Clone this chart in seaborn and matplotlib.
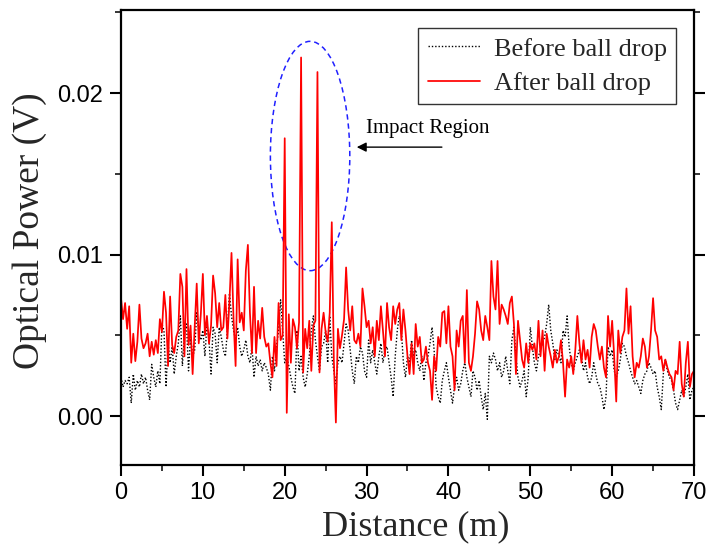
import numpy as np
import pandas as pd
import matplotlib
matplotlib.use("Agg")
import matplotlib.pyplot as plt
from matplotlib.patches import Ellipse
from matplotlib.ticker import MultipleLocator, FormatStrFormatter
import seaborn as sns

# sample positions along the fibre (m)
distance_step = 0.25
distance = np.arange(0, 70 + distance_step / 2, distance_step)

# optical power after ball drop (mV)
after_mV = [
    7.3, 6.0, 7.0, 5.4,  6.8, 3.3, 5.1, 3.4,  4.6, 6.9, 4.8, 4.2,  4.5, 5.1, 3.7, 4.6,
    3.8, 4.7, 3.9, 6.0,  5.2, 7.7, 6.4, 3.1,  7.4, 4.4, 3.9, 4.9,  5.3, 8.8, 8.0, 3.7,
    9.1, 4.4, 5.6, 2.6,  5.5, 8.2, 4.5, 6.3,  8.8, 5.0, 6.2, 4.5,  5.6, 8.7, 7.6, 5.5,
    7.0, 5.3, 5.5, 7.5,  4.8, 7.1, 10.1, 6.0, 3.1, 9.7, 5.8, 6.4,  5.3, 9.0, 10.6, 6.4,
    3.9, 8.0, 3.9, 5.9,  4.8, 6.7, 4.9, 4.3,  4.5, 3.3, 2.4, 4.9,  3.1, 7.0, 4.7, 5.0,
    17.2, 0.2, 6.3, 3.3, 6.0, 5.5, 4.2, 5.8,  22.2, 2.7, 5.4, 4.2, 5.9, 2.8, 5.6, 5.9,
    21.3, 2.7, 5.4, 6.4, 5.2, 4.6, 6.4, 12.0, 3.5, -0.4, 5.4, 4.2, 5.0, 6.0, 9.2, 6.6,
    5.3, 6.8, 4.7, 4.5,  5.1, 4.3, 7.9, 6.8,  5.5, 5.9, 4.5, 5.5,  3.7, 5.9, 4.7, 6.8,
    5.3, 3.7, 7.0, 5.5,  4.7, 6.8, 5.7, 6.6,  7.0, 4.7, 6.6, 5.3,  3.7, 2.6, 4.5, 2.6,
    5.7, 4.3, 4.9, 3.3,  3.5, 4.3, 3.3, 2.8,  1.0, 3.7, 2.8, 4.9,  4.3, 6.4, 6.5, 4.5,
    6.8, 4.3, 3.7, 1.6,  5.3, 4.3, 5.9, 6.2,  3.3, 7.8, 3.3, 2.8,  3.7, 5.1, 7.1, 6.6,
    5.3, 4.7, 6.2, 5.5,  4.7, 9.6, 7.4, 6.6,  9.6, 5.7, 6.9, 6.6,  6.2, 5.7, 7.0, 7.4,
    5.7, 2.6, 5.9, 4.7,  3.5, 3.0, 4.5, 3.3,  4.5, 4.1, 4.5, 3.5,  5.9, 3.7, 5.3, 2.8,
    5.1, 4.3, 3.7, 3.0,  4.1, 3.3, 3.7, 4.7,  3.3, 1.2, 3.5, 3.0,  3.7, 2.6, 4.1, 6.2,
    4.5, 3.3, 4.7, 3.5,  4.1, 3.0, 4.9, 5.7,  5.3, 4.3, 3.5, 4.3,  3.0, 2.4, 6.2, 4.3,
    5.9, 3.7, 0.9, 5.3,  3.9, 4.9, 5.3, 7.9,  5.1, 6.8, 3.7, 2.4,  3.3, 3.0, 3.7, 4.8,
    4.3, 3.0, 3.7, 5.3,  7.3, 5.3, 4.9, 3.5,  3.7, 2.8, 3.5, 3.0,  2.6, 2.4, 1.6, 2.8,
    2.6, 4.6, 2.0, 1.2,  3.3, 4.6, 1.8, 2.6,  2.8,
]

# optical power before ball drop (mV)
before_mV = [
    2.4, 1.8, 2.2, 2.0,  2.4, 0.8, 2.6, 1.6,  2.2, 1.8, 2.6, 2.0,  2.4, 1.6, 1.0, 3.2,
    2.4, 1.8, 2.8, 2.0,  5.7, 5.3, 1.8, 4.5,  3.3, 4.3, 2.6, 3.7,  4.5, 6.2, 3.1, 5.1,
    5.7, 2.8, 4.9, 3.7,  4.1, 6.4, 5.3, 4.7,  5.3, 3.7, 5.7, 4.7,  2.6, 5.5, 5.1, 3.3,
    5.5, 4.9, 4.1, 3.7,  5.3, 7.6, 6.2, 5.3,  4.7, 5.5, 4.3, 3.7,  4.1, 4.7, 3.7, 3.3,
    4.3, 2.4, 3.7, 3.1,  3.5, 2.8, 3.3, 3.0,  2.6, 1.6, 3.7, 2.8,  4.3, 5.3, 7.2, 5.3,
    3.3, 3.7, 3.1, 2.4,  1.8, 1.4, 5.3, 2.8,  3.7, 2.4, 1.8, 2.6,  3.7, 5.3, 6.2, 4.7,
    3.7, 2.8, 4.3, 4.5,  5.3, 3.3, 6.2, 3.7,  2.8, 2.0, 3.3, 3.7,  3.3, 4.5, 5.7, 5.3,
    4.1, 2.8, 2.0, 3.7,  3.3, 4.3, 3.9, 2.8,  2.4, 4.7, 3.3, 4.1,  3.3, 2.6, 3.7, 4.5,
    3.3, 4.1, 4.3, 3.3,  2.4, 1.2, 3.7, 5.3,  6.2, 5.3, 3.3, 2.4,  3.7, 3.3, 4.7, 3.7,
    4.1, 3.3, 2.8, 3.7,  2.2, 3.3, 3.7, 4.5,  5.5, 4.1, 1.8, 1.2,  0.8, 2.2, 2.8, 3.3,
    2.4, 1.6, 0.8, 1.8,  2.4, 1.6, 2.0, 2.8,  3.3, 2.4, 1.8, 1.2,  2.8, 2.4, 1.6, 2.2,
    1.2, 0.4, 1.4, -0.2, 3.7, 3.3, 3.9, 3.5,  2.8, 3.3, 2.4, 2.8,  3.7, 2.8, 2.0, 4.7,
    5.5, 3.7, 2.4, 1.8,  2.2, 2.8, 1.2, 2.4,  5.5, 4.3, 3.3, 2.8,  3.7, 4.1, 4.5, 4.9,
    5.7, 6.9, 5.3, 4.5,  3.5, 4.1, 3.7, 3.3,  5.3, 4.9, 6.2, 4.3,  3.3, 2.8, 3.3, 3.7,
    4.1, 3.7, 2.8, 3.3,  2.4, 2.0, 2.4, 3.3,  2.6, 2.0, 1.8, 1.2,  0.4, 1.2, 4.3, 3.7,
    4.1, 2.8, 2.4, 2.8,  3.5, 4.5, 4.3, 3.7,  3.3, 2.8, 2.4, 2.0,  2.2, 1.8, 1.4, 2.2,
    2.6, 2.8, 3.3, 3.0,  2.6, 2.8, 1.8, 1.2,  0.4, 2.6, 3.5, 2.8,  2.4, 2.2, 1.6, 0.8,
    0.4, 1.0, 1.6, 1.2,  1.8, 2.6, 1.0, 1.6,  1.8,
]

series_labels = ["Before ball drop", "After ball drop"]
x_ticks = [0, 10, 20, 30, 40, 50, 60, 70]
y_ticks = [0.00, 0.01, 0.02]

before = np.array(before_mV) * 1e-3
after = np.array(after_mV) * 1e-3

sns.set_style("ticks")
plt.rcParams["font.family"] = ["Liberation Sans Narrow", "Liberation Sans", "DejaVu Sans"]

fig = plt.figure(figsize=(7.08, 5.46), dpi=100)
ax = fig.add_axes([121 / 708, 81 / 546, 573 / 708, 455 / 546])

sns.lineplot(x=distance, y=before, ax=ax, color="black", lw=1.0,
             linestyle=(0, (1, 1.4)), label=series_labels[0])
sns.lineplot(x=distance, y=after, ax=ax, color="#ff0000", lw=1.25,
             label=series_labels[1])

ax.set_xlim(0, 70)
ax.set_ylim(-0.00303, 0.02514)
ax.set_xticks(x_ticks)
ax.set_yticks(y_ticks)
ax.xaxis.set_minor_locator(MultipleLocator(5))
ax.yaxis.set_minor_locator(MultipleLocator(0.005))
ax.yaxis.set_major_formatter(FormatStrFormatter("%.2f"))

for s in ax.spines.values():
    s.set_visible(True)
    s.set_linewidth(1.6)
    s.set_color("black")

ax.tick_params(axis="both", which="major", direction="out", length=8, width=1.5,
               labelsize=17, colors="black", right=True, top=False)
ax.tick_params(axis="both", which="minor", direction="out", length=4.5, width=1.3,
               right=True, top=False)
ax.tick_params(axis="y", which="both", labelright=False, pad=5)
ax.tick_params(axis="x", pad=4)

serif = ["Liberation Serif", "DejaVu Serif"]
ax.set_xlabel("Distance (m)", family=serif, fontsize=26)
ax.set_ylabel("Optical Power (V)", family=serif, fontsize=27)
ax.xaxis.set_label_coords(0.515, -0.1)
ax.yaxis.set_label_coords(-0.13, 0.516)

# impact region marker
ell = Ellipse((23.1, 0.0161), 9.7, 0.0142, fill=False, edgecolor="#2020ff",
              linestyle=(0, (3.5, 2.5)), lw=1.1)
ax.add_patch(ell)
ax.annotate("", xy=(28.8, 0.01665), xytext=(39.2, 0.01665),
            arrowprops=dict(arrowstyle="-|>", color="black", lw=1.0,
                            mutation_scale=14, shrinkA=0, shrinkB=0))
ax.text(29.9, 0.0178, "Impact Region", family=serif, fontsize=15,
        va="center", ha="left", color="black")

leg = ax.legend(loc="upper right", bbox_to_anchor=(0.9686, 0.9604),
                borderaxespad=0, frameon=True, fancybox=False,
                prop={"family": serif, "size": 19}, handlelength=2.0,
                handletextpad=0.5, labelspacing=0.4, borderpad=0.35)
leg.get_frame().set_edgecolor("black")
leg.get_frame().set_linewidth(1.0)

fig.savefig("out.png", dpi=100)
